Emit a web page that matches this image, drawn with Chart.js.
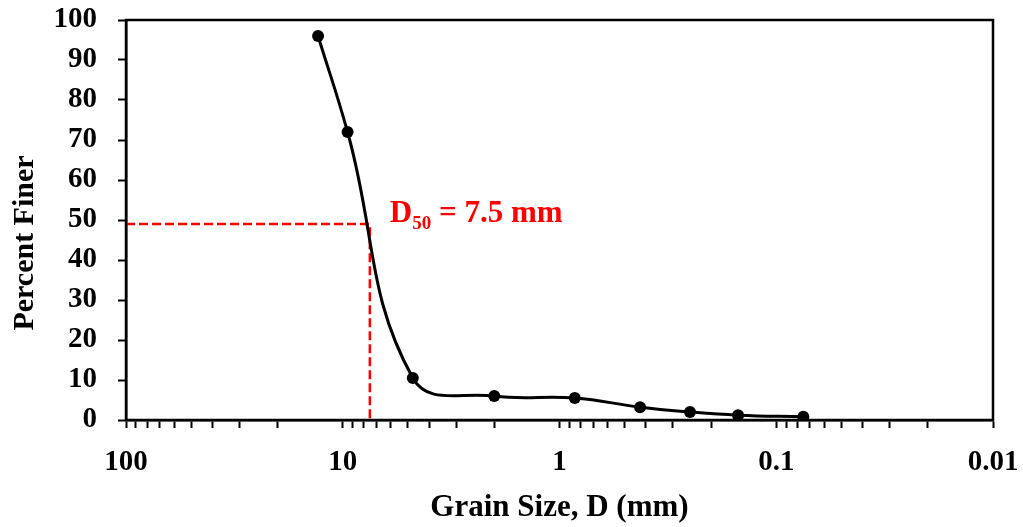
<!DOCTYPE html>
<html>
<head>
<meta charset="utf-8">
<script src="https://cdn.jsdelivr.net/npm/chart.js@4/dist/chart.umd.min.js"></script>
<style>
  html, body { margin: 0; padding: 0; background: #fff; }
  #wrap { width: 1023px; height: 527px; }
</style>
</head>
<body>
<div id="wrap"><canvas id="gsd" width="1023" height="527"></canvas></div>
<script>
// sieve analysis: grain size (mm) vs percent finer
var grainSize = [13, 9.5, 4.75, 2, 0.85, 0.425, 0.25, 0.15, 0.075];
var percentFiner = [96, 72, 10.5, 6, 5.5, 3.2, 2.0, 1.2, 0.8];

// D50 read-off
var d50Size = 7.5;
var d50Percent = 49;

var decades = [0.01, 0.1, 1, 10];
var yTicks = [0, 10, 20, 30, 40, 50, 60, 70, 80, 90, 100];

var serif = "'Liberation Serif', 'Times New Roman', serif";

function logTicks() {
    var t = [];
    decades.forEach(function (d) {
        for (var k = 1; k <= 9; k++) t.push({ value: Number((k * d).toPrecision(3)) });
    });
    t.push({ value: 100 });
    return t;
}

// box around the plot, y-axis title and the D50 note
var extras = {
    id: 'extras',
    afterDraw: function (chart) {
        var ctx = chart.ctx, a = chart.chartArea;
        var xs = chart.scales.x, ys = chart.scales.y;
        ctx.save();
        ctx.strokeStyle = '#000';
        ctx.lineWidth = 2.5;
        ctx.strokeRect(a.left, a.top, a.right - a.left, a.bottom - a.top);

        ctx.fillStyle = '#000';
        ctx.font = 'bold 30px ' + serif;
        ctx.textAlign = 'center';
        ctx.textBaseline = 'alphabetic';
        ctx.translate(33, 243);
        ctx.rotate(-Math.PI / 2);
        ctx.fillText('Percent Finer', 0, 0);
        ctx.restore();

        ctx.save();
        ctx.fillStyle = '#ff0000';
        ctx.textAlign = 'left';
        ctx.textBaseline = 'alphabetic';
        var x = xs.getPixelForValue(d50Size) + 20;
        var y = ys.getPixelForValue(d50Percent) - 2;
        ctx.font = 'bold 31px ' + serif;
        ctx.fillText('D', x, y);
        x += ctx.measureText('D').width;
        ctx.font = 'bold 19px ' + serif;
        ctx.fillText('50', x, y + 7);
        x += ctx.measureText('50').width;
        ctx.font = 'bold 31px ' + serif;
        ctx.fillText(' = ' + d50Size + ' mm', x, y);
        ctx.restore();
    }
};

var curve = grainSize.map(function (g, i) { return { x: g, y: percentFiner[i] }; });
var d50Guide = [
    { x: 100, y: d50Percent },
    { x: d50Size, y: d50Percent },
    { x: d50Size, y: 0 }
];

new Chart(document.getElementById('gsd').getContext('2d'), {
    type: 'line',
    data: {
        datasets: [{
            data: curve,
            borderColor: '#000',
            backgroundColor: '#000',
            borderWidth: 3,
            tension: 0.42,
            pointStyle: 'circle',
            pointRadius: 6,
            pointBorderWidth: 0,
            order: 1
        }, {
            data: d50Guide,
            borderColor: '#ff0000',
            borderWidth: 2.5,
            borderDash: [9, 4],
            pointRadius: 0,
            tension: 0,
            order: 2
        }]
    },
    options: {
        responsive: false,
        animation: false,
        layout: { padding: { top: 20, right: 30, left: 0, bottom: 0 } },
        plugins: { legend: { display: false }, tooltip: { enabled: false } },
        scales: {
            x: {
                type: 'logarithmic',
                reverse: true,
                min: 0.01,
                max: 100,
                afterBuildTicks: function (s) { s.ticks = logTicks(); },
                afterFit: function (s) { s.height = 107; s.paddingLeft = 0; s.paddingRight = 0; },
                border: { display: true, color: '#000', width: 2.5 },
                grid: { drawOnChartArea: false, drawTicks: true, tickLength: 8, tickWidth: 2, tickColor: '#000' },
                ticks: {
                    autoSkip: false,
                    maxRotation: 0,
                    padding: 17,
                    color: '#000',
                    font: { family: serif, size: 29, weight: 'bold' },
                    callback: function (v) {
                        var l = Math.log10(v);
                        return Math.abs(l - Math.round(l)) < 1e-6 ? String(v) : '';
                    }
                },
                title: {
                    display: true,
                    text: 'Grain Size, D (mm)',
                    color: '#000',
                    font: { family: serif, size: 31, weight: 'bold' },
                    padding: { top: 0, bottom: 0 }
                }
            },
            y: {
                min: 0,
                max: 100,
                afterBuildTicks: function (s) { s.ticks = yTicks.map(function (v) { return { value: v }; }); },
                afterFit: function (s) { s.width = 126; s.paddingTop = 0; s.paddingBottom = 0; },
                border: { display: true, color: '#000', width: 2.5 },
                grid: { drawOnChartArea: false, drawTicks: true, tickLength: 8, tickWidth: 2, tickColor: '#000' },
                ticks: {
                    padding: 21,
                    color: '#000',
                    font: { family: serif, size: 29, weight: 'bold' }
                }
            }
        }
    },
    plugins: [extras]
});
</script>
</body>
</html>
